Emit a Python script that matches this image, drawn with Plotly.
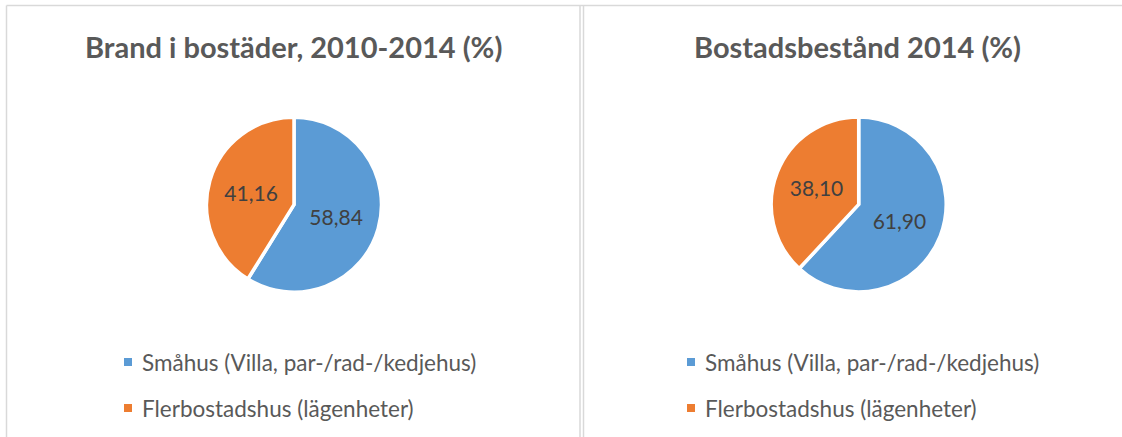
import plotly.graph_objects as go

W, H = 1122, 437

# data
categories = ["Småhus (Villa, par-/rad-/kedjehus)", "Flerbostadshus (lägenheter)"]
brand_values = [58.84, 41.16]
bestand_values = [61.90, 38.10]
titles = ["Brand i bostäder, 2010-2014 (%)", "Bostadsbestånd 2014 (%)"]

COLORS = ["#5B9BD5", "#ED7D31"]
FONT = "Lato, 'Open Sans', sans-serif"
GREY_TEXT = "#595959"
BORDER = "#D9D9D9"


def px_x(x):
    return x / W


def px_y(y):
    return 1 - y / H


def pie_domain(cx, cy, r):
    return dict(x=[px_x(cx - r), px_x(cx + r)], y=[px_y(cy + r), px_y(cy - r)])


fig = go.Figure()

panels = [
    dict(values=brand_values, cx=294, cy=204.7, title_x=293, legend_x=124),
    dict(values=bestand_values, cx=858.7, cy=204.4, title_x=857, legend_x=687),
]

for i, p in enumerate(panels):
    fig.add_trace(go.Pie(
        labels=categories,
        values=p["values"],
        sort=False,
        direction="clockwise",
        rotation=0,
        marker=dict(colors=COLORS, line=dict(color="white", width=3.5)),
        texttemplate="%{value:.2f}",
        textposition="inside",
        insidetextorientation="horizontal",
        textfont=dict(family=FONT, size=21, color="#404040"),
        domain=pie_domain(p["cx"], p["cy"], 87.5),
        automargin=False,
        showlegend=False,
        hoverinfo="label+value",
    ))

    # title
    fig.add_annotation(
        text=f"<b>{titles[i]}</b>", x=px_x(p["title_x"]), y=px_y(46),
        xref="paper", yref="paper", xanchor="center", yanchor="middle",
        showarrow=False, font=dict(family=FONT, size=29, color=GREY_TEXT),
    )

    # legend (square + label)
    for j, (cat, col) in enumerate(zip(categories, COLORS)):
        cy = 362 + j * 46
        x0 = p["legend_x"]
        fig.add_shape(
            type="rect", xref="paper", yref="paper",
            x0=px_x(x0), x1=px_x(x0 + 8), y0=px_y(cy + 4), y1=px_y(cy - 4),
            fillcolor=col, line=dict(width=0),
        )
        fig.add_annotation(
            text=cat, x=px_x(x0 + 16), y=px_y(cy),
            xref="paper", yref="paper", xanchor="left", yanchor="middle",
            showarrow=False, font=dict(family=FONT, size=22.5, color=GREY_TEXT),
        )

# panel borders
border_lines = [
    (6.5, 5.5, 6.5, H),      # left panel left
    (6.5, 5.5, W, 5.5),      # top
    (580, 5.5, 580, H),      # left panel right
    (583.5, 5.5, 583.5, H),  # right panel left
]
for x0, y0, x1, y1 in border_lines:
    fig.add_shape(
        type="line", xref="paper", yref="paper",
        x0=px_x(x0), y0=px_y(y0), x1=px_x(x1), y1=px_y(y1),
        line=dict(color=BORDER, width=1.5),
    )

fig.update_layout(
    width=W, height=H,
    margin=dict(l=0, r=0, t=0, b=0),
    paper_bgcolor="white",
    plot_bgcolor="white",
    separators=", ",
    font=dict(family=FONT, color=GREY_TEXT),
)

# page body has a default 8px margin; drop it so the figure fills the window
fig.write_html(
    "out.html",
    config={"displayModeBar": False},
    post_script="document.body.style.margin='0';document.body.style.overflow='hidden';",
)
